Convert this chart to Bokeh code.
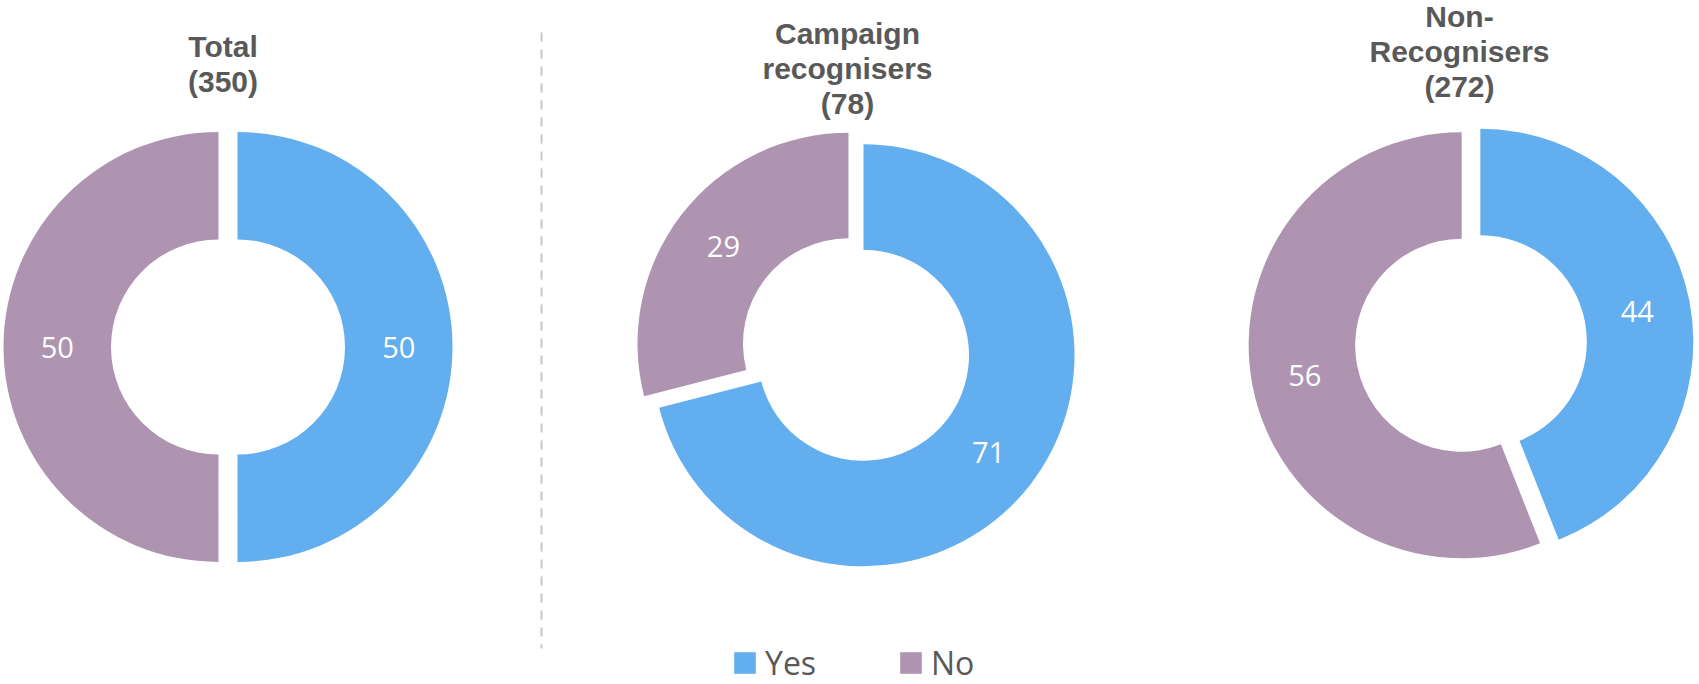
import math
from bokeh.plotting import figure
from bokeh.models import Range1d, Legend, LegendItem, ColumnDataSource
from bokeh.core.properties import value
from bokeh.embed import file_html
from bokeh.resources import INLINE

# ---------------- data ----------------
groups = ["Total", "Campaign recognisers", "Non-Recognisers"]
bases = [350, 78, 272]
title_lines = [["Total", "(350)"], ["Campaign", "recognisers", "(78)"], ["Non-", "Recognisers", "(272)"]]
yes_pct = [50, 71, 44]
no_pct = [50, 29, 56]
series_names = ["Yes", "No"]

# ---------------- layout / style ----------------
W, H = 1699, 684
centers_x = [227.5, 855.5, 1470.5]
centers_y_screen = [346.5, 349.0, 343.0]
outer_r = [215, 211, 213]
hole_ratio = 0.5
explode = 9.5
title_x = [222.5, 847.0, 1459.0]
title_first_baseline = [46, 33, 16]
title_line_gap = 35
sep_x, sep_top, sep_bottom = 541, 32, 648

YES_COLOR = "#62AEEE"
NO_COLOR = "#AE94B1"
TEXT_GRAY = "#595959"

p = figure(width=W, height=H, x_range=Range1d(0, W), y_range=Range1d(0, H),
           output_backend="svg", toolbar_location=None, min_border=0,
           x_axis_location=None, y_axis_location=None)
p.grid.visible = False
p.outline_line_color = None
p.background_fill_color = "white"
p.border_fill_color = "white"


def wedges(values_first, values, first):
    xs, ys, r_in, r_out, a0, a1, lx, ly, txt = [], [], [], [], [], [], [], [], []
    for i in range(len(values)):
        cx = centers_x[i]
        cy = H - centers_y_screen[i]
        frac_prev = 0 if first else values_first[i] / 100.0
        frac = values[i] / 100.0
        start = math.pi / 2 - 2 * math.pi * frac_prev
        end = start - 2 * math.pi * frac
        mid = (start + end) / 2
        ox = cx + explode * math.cos(mid)
        oy = cy + explode * math.sin(mid)
        R = outer_r[i]
        r = R * hole_ratio
        xs.append(ox); ys.append(oy)
        r_in.append(r); r_out.append(R)
        a0.append(start); a1.append(end)
        rm = (R + r) / 2
        lx.append(ox + rm * math.cos(mid))
        ly.append(oy + rm * math.sin(mid))
        txt.append(str(values[i]))
    return dict(x=xs, y=ys, r_in=r_in, r_out=r_out, a0=a0, a1=a1), dict(x=lx, y=ly, t=txt)


yes_w, yes_l = wedges(yes_pct, yes_pct, True)
no_w, no_l = wedges(yes_pct, no_pct, False)

r_yes = p.annular_wedge(x="x", y="y", inner_radius="r_in", outer_radius="r_out",
                        start_angle="a0", end_angle="a1", direction="clock",
                        source=ColumnDataSource(yes_w), fill_color=YES_COLOR, line_color=None)
r_no = p.annular_wedge(x="x", y="y", inner_radius="r_in", outer_radius="r_out",
                       start_angle="a0", end_angle="a1", direction="clock",
                       source=ColumnDataSource(no_w), fill_color=NO_COLOR, line_color=None)

for lab in (yes_l, no_l):
    p.text(x="x", y="y", text="t", source=ColumnDataSource(lab),
           text_color="white", text_font=value("Open Sans"), text_font_size="29px",
           text_align="center", text_baseline="middle")

# titles
tx, ty, tt = [], [], []
for i, lines in enumerate(title_lines):
    for j, line in enumerate(lines):
        tx.append(title_x[i])
        ty.append(H - (title_first_baseline[i] + j * title_line_gap))
        tt.append(line)
p.text(x="x", y="y", text="t", source=ColumnDataSource(dict(x=tx, y=ty, t=tt)),
       text_color=TEXT_GRAY, text_font=value("Liberation Sans"), text_font_style="bold",
       text_font_size="30px", text_align="center", text_baseline="alphabetic")

# dashed separator
p.segment(x0=[sep_x], y0=[H - sep_top], x1=[sep_x], y1=[H - sep_bottom],
          line_color="#C8C8C8", line_width=2, line_dash="9 8")

legend = Legend(items=[LegendItem(label=series_names[0], renderers=[r_yes], index=0),
                       LegendItem(label=series_names[1], renderers=[r_no], index=0)],
                orientation="horizontal", location=(731, 0),
                glyph_width=27, glyph_height=27, label_standoff=7, label_width=100,
                spacing=32, padding=0, margin=0,
                label_text_font="Open Sans", label_text_font_size="32px",
                label_text_color=TEXT_GRAY,
                border_line_color=None, background_fill_alpha=0)
p.add_layout(legend)

open("out.html", "w").write(file_html(p, INLINE))
